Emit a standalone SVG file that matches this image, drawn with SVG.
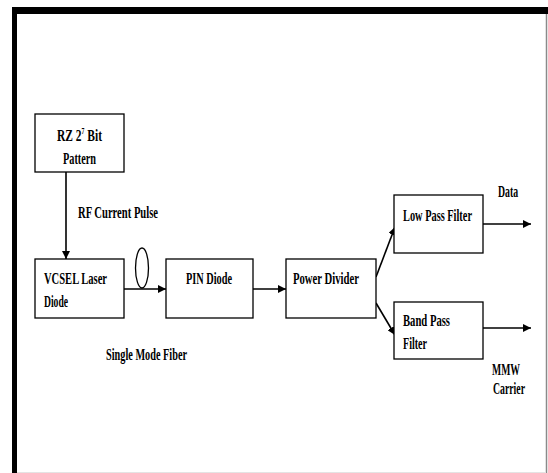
<svg xmlns="http://www.w3.org/2000/svg" width="548" height="473" viewBox="0 0 548 473">
<style>
.box{fill:#fff;stroke:#000;stroke-width:1.3}
.t{font-family:"Liberation Serif","Times New Roman",serif;font-weight:bold;font-size:16px;fill:#000}
.ln{stroke:#000;stroke-width:1.6;fill:none}
</style>
<defs>
<marker id="ah" viewBox="0 0 10 10" refX="10" refY="5" markerWidth="8" markerHeight="8" markerUnits="userSpaceOnUse" orient="auto">
<path d="M0,0 L10,5 L0,10 z" fill="#000"/>
</marker>
</defs>
<rect width="548" height="473" fill="#fff"/>
<g id="frame">
<rect x="12" y="7" width="536" height="7" fill="#000"/>
<rect x="12" y="7" width="5" height="466" fill="#000"/>
<line x1="546.5" y1="14" x2="546.5" y2="473" stroke="#8a8a8a" stroke-width="1.5"/>
<line x1="17" y1="472.5" x2="546" y2="472.5" stroke="#e4e4e4" stroke-width="1"/>
</g>
<g id="connectors">
<line class="ln" x1="66" y1="172" x2="66" y2="259" marker-end="url(#ah)"/>
<line class="ln" x1="124" y1="289" x2="166" y2="289" marker-end="url(#ah)"/>
<ellipse cx="142" cy="268" rx="6.5" ry="20" fill="none" stroke="#000" stroke-width="1.3"/>
<line class="ln" x1="253" y1="289" x2="286" y2="289" marker-end="url(#ah)"/>
<line class="ln" x1="376" y1="277" x2="395" y2="227" marker-end="url(#ah)"/>
<line class="ln" x1="376" y1="303" x2="395" y2="335" marker-end="url(#ah)"/>
<line class="ln" x1="483" y1="224" x2="531" y2="224" marker-end="url(#ah)"/>
<line class="ln" x1="483" y1="328" x2="531" y2="328" marker-end="url(#ah)"/>
</g>
<g id="rz">
<rect class="box" x="35" y="114" width="89" height="58"/>
<text class="t" x="57" y="141" textLength="45" lengthAdjust="spacingAndGlyphs">RZ 2<tspan font-size="8" dy="-7">7</tspan><tspan dy="7"> Bit</tspan></text>
<text class="t" x="63" y="164" textLength="33" lengthAdjust="spacingAndGlyphs">Pattern</text>
</g>
<g id="rf-label">
<text class="t" x="78" y="218" textLength="80" lengthAdjust="spacingAndGlyphs">RF Current Pulse</text>
</g>
<g id="vcsel">
<rect class="box" x="35" y="259" width="89" height="59"/>
<text class="t" x="44" y="284" textLength="63" lengthAdjust="spacingAndGlyphs">VCSEL Laser</text>
<text class="t" x="44" y="307" textLength="24" lengthAdjust="spacingAndGlyphs">Diode</text>
</g>
<g id="pin">
<rect class="box" x="166" y="259" width="87" height="59"/>
<text class="t" x="186" y="284" textLength="46" lengthAdjust="spacingAndGlyphs">PIN Diode</text>
</g>
<g id="smf-label">
<text class="t" x="106" y="360" textLength="81" lengthAdjust="spacingAndGlyphs">Single Mode Fiber</text>
</g>
<g id="divider">
<rect class="box" x="286" y="259" width="90" height="59"/>
<text class="t" x="293" y="284" textLength="66" lengthAdjust="spacingAndGlyphs">Power Divider</text>
</g>
<g id="lpf">
<rect class="box" x="394" y="195" width="89" height="58"/>
<text class="t" x="403" y="221" textLength="69" lengthAdjust="spacingAndGlyphs">Low Pass Filter</text>
</g>
<g id="bpf">
<rect class="box" x="394" y="302" width="89" height="57"/>
<text class="t" x="403" y="326" textLength="47" lengthAdjust="spacingAndGlyphs">Band Pass</text>
<text class="t" x="403" y="349" textLength="24" lengthAdjust="spacingAndGlyphs">Filter</text>
</g>
<g id="data-label">
<text class="t" x="498" y="197" textLength="20" lengthAdjust="spacingAndGlyphs">Data</text>
</g>
<g id="mmw-label">
<text class="t" x="492" y="375" textLength="28" lengthAdjust="spacingAndGlyphs">MMW</text>
<text class="t" x="493" y="394" textLength="32" lengthAdjust="spacingAndGlyphs">Carrier</text>
</g>
</svg>
